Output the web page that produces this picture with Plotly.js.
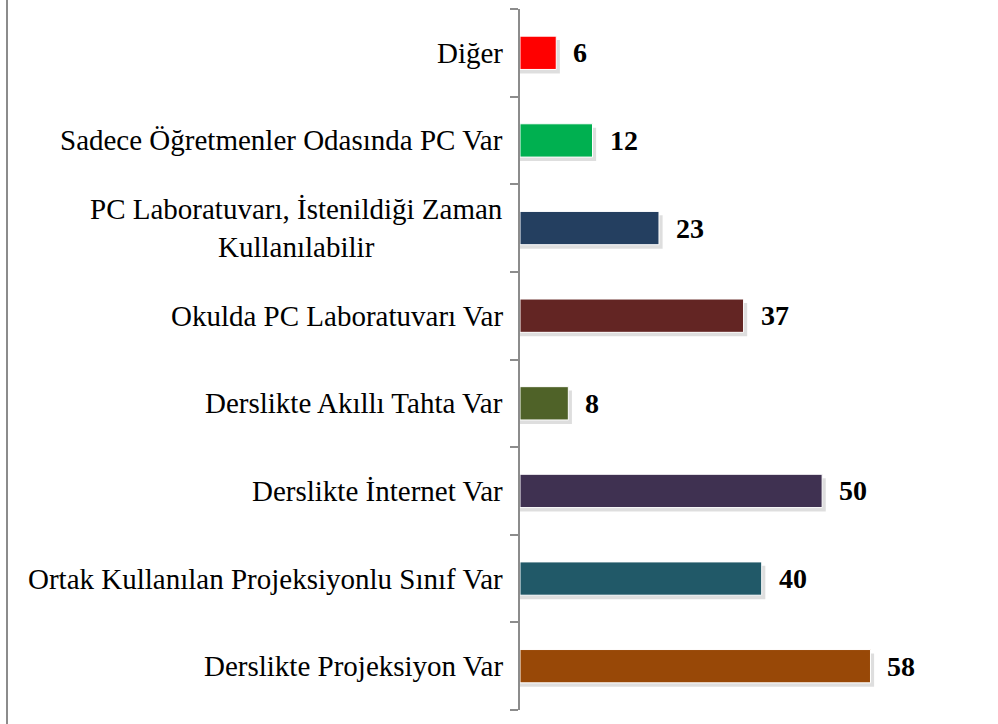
<!DOCTYPE html>
<html>
<head>
<meta charset="utf-8">
<script src="https://cdn.plot.ly/plotly-3.0.1.min.js"></script>
<style>html,body{margin:0;padding:0;background:#fff;}#chart{width:998px;height:724px;}</style>
</head>
<body>
<div id="chart"></div>
<script>
// Data, bottom to top
const categories = [
  "Derslikte Projeksiyon Var",
  "Ortak Kullanılan Projeksiyonlu Sınıf Var",
  "Derslikte İnternet Var",
  "Derslikte Akıllı Tahta Var",
  "Okulda PC Laboratuvarı Var",
  "PC Laboratuvarı, İstenildiği Zaman<br>Kullanılabilir",
  "Sadece Öğretmenler Odasında PC Var",
  "Diğer"
];
const values = [58, 40, 50, 8, 37, 23, 12, 6];
const colors = ["#984807", "#215968", "#3F3151", "#4F6228", "#632523", "#243F60", "#00B050", "#FF0000"];

const FONT = "Liberation Serif";
const barWidth = 0.38;

const shadow = {
  type: "bar", orientation: "h",
  x: values.map(v => v + 0.6), y: categories,
  width: barWidth, offset: -barWidth / 2 - 0.045,
  marker: {color: "rgba(0,0,0,0.13)"},
  hoverinfo: "skip", showlegend: false
};
const bars = {
  type: "bar", orientation: "h",
  x: values, y: categories,
  width: barWidth, offset: -barWidth / 2,
  marker: {color: colors, line: {color: "#ffffff", width: 1}},
  showlegend: false
};

const annotations = [];
categories.forEach((c, i) => {
  annotations.push({
    xref: "paper", yref: "y", x: 0, y: c, xanchor: "right", yanchor: "middle",
    xshift: -15, text: c, align: "center", showarrow: false,
    font: {family: FONT, size: 29, color: "#000"}
  });
  annotations.push({
    xref: "x", yref: "y", x: values[i], y: c, xanchor: "left", yanchor: "middle",
    xshift: 15, text: "<b>" + values[i] + "</b>", showarrow: false,
    font: {family: FONT, size: 28, color: "#000"}
  });
});

const layout = {
  width: 998, height: 724,
  margin: {l: 520, r: 55, t: 9, b: 14},
  paper_bgcolor: "#fff", plot_bgcolor: "#fff",
  barmode: "overlay",
  xaxis: {range: [0, 70], visible: false, fixedrange: true},
  yaxis: {
    type: "category", categoryorder: "array", categoryarray: categories,
    showticklabels: false, showgrid: false, zeroline: false,
    showline: true, linecolor: "#8c8c8c", linewidth: 2,
    ticks: "outside", tickson: "boundaries", ticklen: 8, tickcolor: "#8c8c8c", tickwidth: 2,
    range: [-0.5, 7.5], fixedrange: true
  },
  annotations: annotations,
  shapes: [{
    type: "line", xref: "paper", yref: "paper",
    x0: -513 / 423, x1: -513 / 423, y0: -0.03, y1: 1.02,
    line: {color: "#8c8c8c", width: 2}
  }],
  showlegend: false
};

Plotly.newPlot("chart", [shadow, bars], layout, {displayModeBar: false, staticPlot: true});
</script>
</body>
</html>
